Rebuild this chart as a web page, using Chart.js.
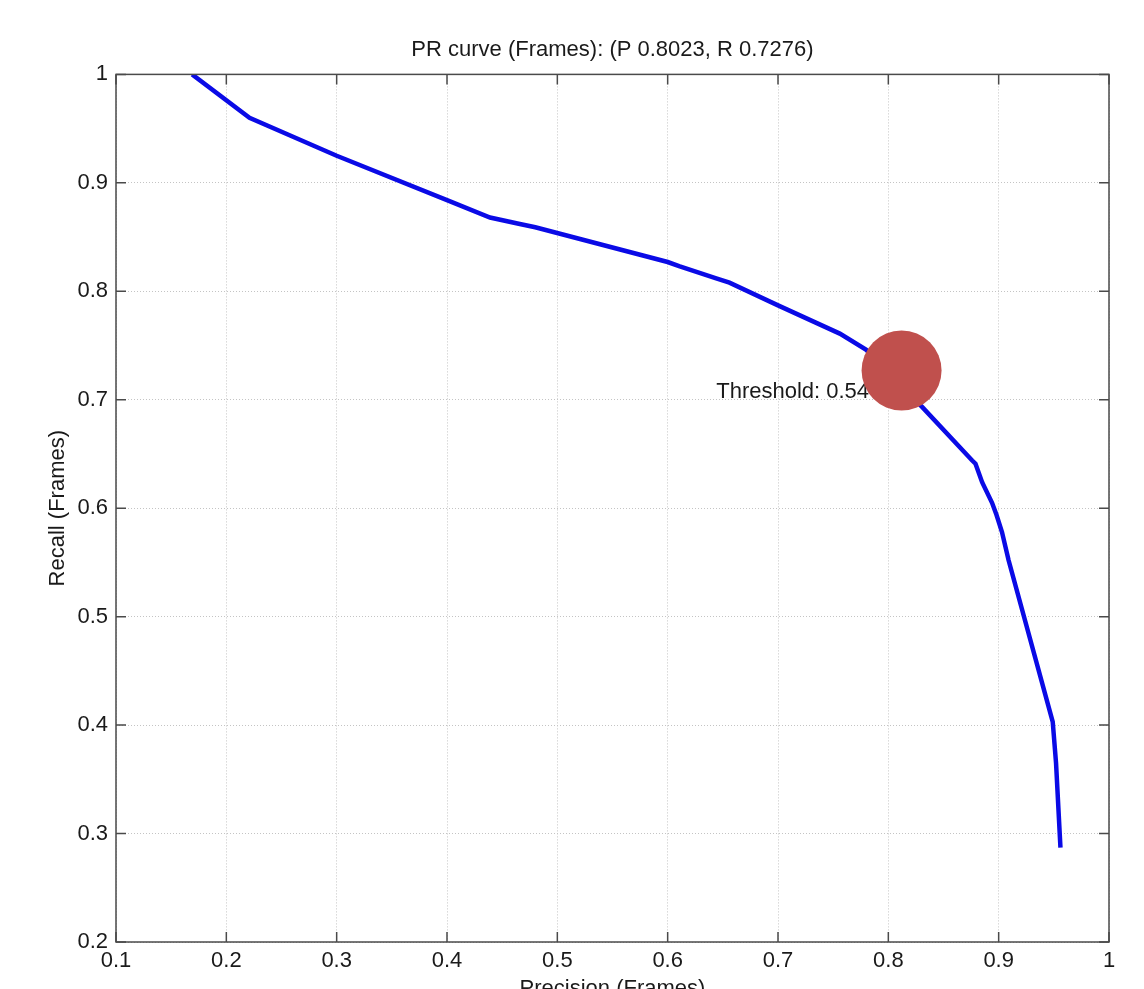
<!DOCTYPE html>
<html>
<head>
<meta charset="utf-8">
<title>PR curve</title>
<script src="https://cdn.jsdelivr.net/npm/chart.js@4/dist/chart.umd.min.js"></script>
<style>
  html, body { margin: 0; padding: 0; background: #fff; overflow: hidden; }
  #wrap { width: 1144px; height: 1010px; }
</style>
</head>
<body>
<div id="wrap"><canvas id="myChart"></canvas></div>
<script>
// precision / recall
const precision = [0.169, 0.221, 0.300, 0.400, 0.439, 0.466, 0.480, 0.600, 0.611, 0.644, 0.656, 0.700, 0.756, 0.780, 0.831, 0.876, 0.879, 0.885, 0.894, 0.898, 0.903, 0.909, 0.949, 0.952, 0.956];
const recall    = [1.000, 0.960, 0.925, 0.884, 0.868, 0.862, 0.859, 0.827, 0.823, 0.812, 0.808, 0.787, 0.761, 0.746, 0.693, 0.644, 0.641, 0.624, 0.605, 0.594, 0.578, 0.552, 0.403, 0.365, 0.287];

// operating point marker + its label
const markerP = [0.812];
const markerR = [0.727];
const thresholdText = 'Threshold: 0.54';
const thresholdAt = [0.644, 0.707];

const xTicks = [0.1, 0.2, 0.3, 0.4, 0.5, 0.6, 0.7, 0.8, 0.9, 1.0];
const xTickLabels = ['0.1', '0.2', '0.3', '0.4', '0.5', '0.6', '0.7', '0.8', '0.9', '1'];
const yTicks = [0.2, 0.3, 0.4, 0.5, 0.6, 0.7, 0.8, 0.9, 1.0];
const yTickLabels = ['0.2', '0.3', '0.4', '0.5', '0.6', '0.7', '0.8', '0.9', '1'];

const chartTitle = 'PR curve (Frames): (P 0.8023, R 0.7276)';
const xTitle = 'Precision (Frames)';
const yTitle = 'Recall (Frames)';

const FONT = 'Liberation Sans, Arial, Helvetica, sans-serif';
const TXT = '#1a1a1a';

const curve = precision.map((p, i) => ({ x: p, y: recall[i] }));
const marker = markerP.map((p, i) => ({ x: p, y: markerR[i] }));

// matlab style box with inward ticks, plus the threshold text
const boxPlugin = {
    id: 'box',
    beforeDatasetsDraw(chart) {
        const ctx = chart.ctx;
        const xs = chart.scales.x, ys = chart.scales.y;
        ctx.save();
        ctx.fillStyle = TXT;
        ctx.font = '22px ' + FONT;
        ctx.textAlign = 'left';
        ctx.textBaseline = 'middle';
        ctx.fillText(thresholdText, xs.getPixelForValue(thresholdAt[0]), ys.getPixelForValue(thresholdAt[1]));
        ctx.restore();
    },
    afterDraw(chart) {
        const ctx = chart.ctx;
        const a = chart.chartArea;
        const xs = chart.scales.x, ys = chart.scales.y;
        ctx.save();
        ctx.strokeStyle = '#4a4a4a';
        ctx.lineWidth = 1.5;
        ctx.strokeRect(a.left, a.top, a.right - a.left, a.bottom - a.top);
        ctx.beginPath();
        xTicks.forEach(v => {
            const px = xs.getPixelForValue(v);
            ctx.moveTo(px, a.bottom); ctx.lineTo(px, a.bottom - 10);
            ctx.moveTo(px, a.top); ctx.lineTo(px, a.top + 10);
        });
        yTicks.forEach(v => {
            const py = ys.getPixelForValue(v);
            ctx.moveTo(a.left, py); ctx.lineTo(a.left + 10, py);
            ctx.moveTo(a.right, py); ctx.lineTo(a.right - 10, py);
        });
        ctx.stroke();
        ctx.restore();
    }
};

const ctx = document.getElementById('myChart').getContext('2d');
const myChart = new Chart(ctx, {
    type: 'scatter',
    data: {
        datasets: [
            {
                data: marker,
                pointRadius: 40,
                pointHoverRadius: 40,
                pointBackgroundColor: 'rgb(192,80,77)',
                pointBorderWidth: 0,
                showLine: false
            },
            {
                data: curve,
                showLine: true,
                borderColor: '#0a0ae6',
                borderWidth: 4.5,
                pointRadius: 0,
                tension: 0,
                fill: false
            }
        ]
    },
    options: {
        responsive: true,
        maintainAspectRatio: false,
        animation: false,
        layout: { autoPadding: false, padding: { left: 0, right: 35, top: 0, bottom: 0 } },
        plugins: {
            legend: { display: false },
            tooltip: { enabled: false },
            title: {
                display: true,
                fullSize: false,
                text: chartTitle,
                color: TXT,
                font: { family: FONT, size: 22, weight: 'normal' },
                padding: { top: 37, bottom: 11 }
            }
        },
        scales: {
            x: {
                type: 'linear',
                min: 0.1,
                max: 1,
                afterBuildTicks: s => { s.ticks = xTicks.map(v => ({ value: v })); },
                afterFit: s => { s.height = 68; },
                ticks: {
                    color: TXT,
                    font: { family: FONT, size: 22 },
                    padding: 6,
                    maxRotation: 0,
                    autoSkip: false,
                    callback: (v, i) => xTickLabels[i]
                },
                grid: { color: '#c4c4c4', drawTicks: false, lineWidth: 1 },
                border: { display: false, dash: [1, 2] },
                title: {
                    display: true,
                    text: xTitle,
                    color: TXT,
                    font: { family: FONT, size: 22 },
                    padding: { top: 0, bottom: 8 }
                }
            },
            y: {
                type: 'linear',
                min: 0.2,
                max: 1,
                afterBuildTicks: s => { s.ticks = yTicks.map(v => ({ value: v })); },
                afterFit: s => { s.width = 116; },
                ticks: {
                    color: TXT,
                    font: { family: FONT, size: 22 },
                    padding: 8,
                    autoSkip: false,
                    callback: (v, i) => yTickLabels[i]
                },
                grid: { color: '#c4c4c4', drawTicks: false, lineWidth: 1 },
                border: { display: false, dash: [1, 2] },
                title: {
                    display: true,
                    text: yTitle,
                    color: TXT,
                    font: { family: FONT, size: 22 },
                    padding: { top: 45, bottom: 0 }
                }
            }
        }
    },
    plugins: [boxPlugin]
});
</script>
</body>
</html>
